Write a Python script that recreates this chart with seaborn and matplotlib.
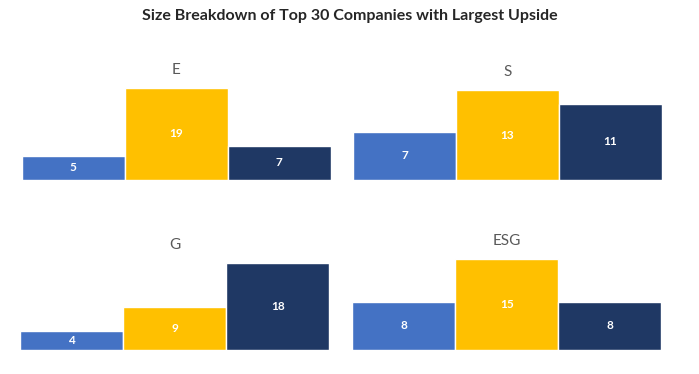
import pandas as pd
import seaborn as sns
import matplotlib.pyplot as plt

sizes = ['Small', 'Mid', 'Large']
panels = ['E', 'S', 'G', 'ESG']
e_vals = [5, 19, 7]
s_vals = [7, 13, 11]
g_vals = [4, 9, 18]
esg_vals = [8, 15, 8]
colors = ['#4472C4', '#FFC000', '#1F3864']

values = {'E': e_vals, 'S': s_vals, 'G': g_vals, 'ESG': esg_vals}

sns.set_style('white')
plt.rcParams['font.family'] = ['Lato', 'DejaVu Sans']

fig = plt.figure(figsize=(6.99, 3.74), dpi=100)

# axes boxes in figure fractions (left, bottom, width, height)
boxes = {
    'E': [0.031, 0.519, 0.442, 0.246],
    'S': [0.505, 0.519, 0.442, 0.240],
    'G': [0.029, 0.064, 0.442, 0.232],
    'ESG': [0.504, 0.064, 0.442, 0.243],
}

for p in panels:
    d = pd.DataFrame({'size': sizes, 'count': values[p]})
    ax = fig.add_axes(boxes[p])
    sns.barplot(data=d, x='size', y='count', hue='size', palette=colors,
                saturation=1, width=1.0, edgecolor='white', linewidth=1,
                legend=False, ax=ax)
    for c in ax.containers:
        ax.bar_label(c, label_type='center', color='white', fontsize=8.5,
                     fontweight='bold')
    ax.set_ylim(0, max(values[p]))
    ax.set_xlim(-0.5, 2.5)
    ax.set_title(p, color='#595959', fontsize=11, pad=10)
    ax.set_xlabel('')
    ax.set_ylabel('')
    ax.set_xticks([])
    ax.set_yticks([])
    sns.despine(ax=ax, left=True, bottom=True)

fig.suptitle('Size Breakdown of Top 30 Companies with Largest Upside',
             fontsize=11.5, fontweight='bold', y=0.975)

fig.savefig('out.png', dpi=100)
